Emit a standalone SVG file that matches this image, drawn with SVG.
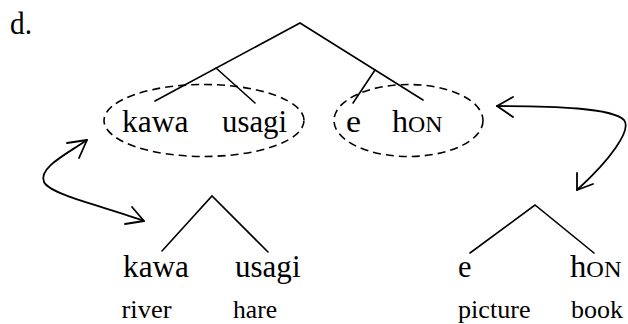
<svg xmlns="http://www.w3.org/2000/svg" width="628" height="324" viewBox="0 0 628 324">
<style>
  text { font-family: "Liberation Serif", "DejaVu Serif", serif; fill: #000; }
  .w { font-size: 31px; }
  .g { font-size: 25px; }
  .sc { font-size: 23px; }
  .edge { stroke: #000; stroke-width: 1.6; fill: none; stroke-linecap: round; }
  .arr { stroke: #000; stroke-width: 1.8; fill: none; stroke-linecap: round; stroke-linejoin: round; }
  .grp { stroke: #000; stroke-width: 1.6; fill: none; stroke-dasharray: 8 5; }
</style>
<rect width="628" height="324" fill="#fff"/>
<g id="label-d"><text class="w" x="10" y="34" textLength="22" lengthAdjust="spacingAndGlyphs">d.</text></g>
<g id="group-kawa-usagi"><ellipse class="grp" cx="204" cy="120.5" rx="100" ry="36"/></g>
<g id="group-e-hon"><ellipse class="grp" cx="408.5" cy="120.5" rx="74.5" ry="36"/></g>
<g id="top-kawa"><text class="w" x="122" y="132" textLength="66.5" lengthAdjust="spacingAndGlyphs">kawa</text></g>
<g id="top-usagi"><text class="w" x="222" y="132" textLength="65" lengthAdjust="spacingAndGlyphs">usagi</text></g>
<g id="top-e"><text class="w" x="346" y="132" textLength="15" lengthAdjust="spacingAndGlyphs">e</text></g>
<g id="top-hon"><text class="w" x="392" y="132" textLength="50.5" lengthAdjust="spacingAndGlyphs">h<tspan class="sc">ON</tspan></text></g>
<g id="bottom-kawa"><text class="w" x="123" y="276.5" textLength="66" lengthAdjust="spacingAndGlyphs">kawa</text></g>
<g id="bottom-usagi"><text class="w" x="235" y="276.5" textLength="65.5" lengthAdjust="spacingAndGlyphs">usagi</text></g>
<g id="bottom-e"><text class="w" x="458" y="276.5" textLength="13.5" lengthAdjust="spacingAndGlyphs">e</text></g>
<g id="bottom-hon"><text class="w" x="570" y="276.5" textLength="51.5" lengthAdjust="spacingAndGlyphs">h<tspan class="sc">ON</tspan></text></g>
<g id="gloss-river"><text class="g" x="121.5" y="318" textLength="50" lengthAdjust="spacingAndGlyphs">river</text></g>
<g id="gloss-hare"><text class="g" x="233" y="318" textLength="44" lengthAdjust="spacingAndGlyphs">hare</text></g>
<g id="gloss-picture"><text class="g" x="458" y="318" textLength="72.5" lengthAdjust="spacingAndGlyphs">picture</text></g>
<g id="gloss-book"><text class="g" x="571" y="318" textLength="52" lengthAdjust="spacingAndGlyphs">book</text></g>
<g id="connectors">
  <path class="edge" d="M155,101 L300,23 L423,100"/>
  <path class="edge" d="M216,68 L255,103"/>
  <path class="edge" d="M375,70 L353,103"/>
  <path class="edge" d="M162,251 L212,196 L268,252"/>
  <path class="edge" d="M470,253 L535,205 L594,253"/>
  <path class="arr" d="M87,140 C65,155 38,168 44,182 C50,195 110,208 144,221"/>
  <path class="arr" d="M67,143 L87,140 L79,158"/>
  <path class="arr" d="M132,207 L144,221 L125,224"/>
  <path class="arr" d="M497,106 C555,106 612,108 624,120 C632,130 610,160 577,190"/>
  <path class="arr" d="M513,97 L497,106 L513,117"/>
  <path class="arr" d="M577,173 L577,190 L593,184"/>
</g>
</svg>
